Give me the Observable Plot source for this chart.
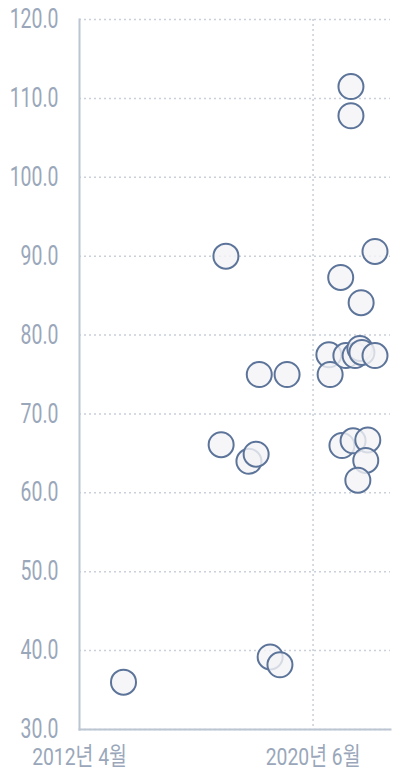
<!DOCTYPE html>
<html><head><meta charset="utf-8">
<script src="https://cdn.jsdelivr.net/npm/d3@7"></script>
<script src="https://cdn.jsdelivr.net/npm/@observablehq/plot@0.6"></script>
<style>body{margin:0;background:#fff}</style>
</head><body><div id="chart"></div>
<script>
const dates = ["2013-10-15","2017-05-15","2017-03-15","2018-03-05","2018-06-05","2018-07-15","2019-07-05","2018-12-01","2019-04-05","2021-09-28","2021-09-28","2022-08-01","2021-05-20","2022-02-05","2020-12-20","2021-01-05","2021-07-25","2021-11-20","2022-01-20","2022-02-15","2022-08-01","2021-06-05","2021-10-25","2022-05-01","2022-04-05","2021-12-25"];
const values = [36.0,90.0,66.1,64.0,64.9,75.0,75.0,39.2,38.2,111.5,107.8,90.6,87.3,84.1,77.5,75.0,77.4,77.4,78.3,77.8,77.4,66.0,66.6,66.7,64.1,61.6];
const yTicks = [30,40,50,60,70,80,90,100,110,120];
const xTickDates = ["2012-04-01","2020-06-01"];
const xTickLabels = ["2012년 4월","2020년 6월"];
const xDomain = ["2012-04-01","2023-02-15"];

const data = dates.map((d,i)=>({date:new Date(d), value:values[i]}));
const xt = xTickDates.map(d=>new Date(d));
const labelColor = "#9aa7ba";
const chart = Plot.plot({
  width:393, height:769,
  marginLeft:79, marginRight:3, marginTop:19, marginBottom:40,
  style:{fontFamily:"Roboto, 'Noto Sans CJK KR', sans-serif", background:"#fff", color:labelColor, overflow:"visible"},
  x:{type:"utc", domain:xDomain.map(d=>new Date(d))},
  y:{domain:[30,120]},
  marks:[
    Plot.gridY(yTicks,{stroke:"#c9d0da", strokeOpacity:1, strokeWidth:1.5, strokeDasharray:"2,3"}),
    Plot.gridX([xt[1]],{stroke:"#c9d0da", strokeOpacity:1, strokeWidth:1.5, strokeDasharray:"2,3"}),
    Plot.frame({anchor:"left", stroke:"#bcc6d3", strokeWidth:2}),
    Plot.frame({anchor:"bottom", stroke:"#bcc6d3", strokeWidth:2}),
    Plot.dot(data,{x:"date", y:"value", r:12.5, fill:"#f4f4f6", fillOpacity:0.8, stroke:"#5c7499", strokeWidth:2}),
    Plot.axisY(yTicks,{tickSize:0, tickPadding:21, tickFormat:d=>d.toFixed(1), fontSize:27, fill:labelColor, label:null}),
    Plot.axisX(xt,{tickSize:0, tickPadding:18, tickFormat:(d)=>xTickLabels[xt.findIndex(t=>+t===+d)], fontSize:24.5, fill:labelColor, label:null})
  ]
});
document.getElementById("chart").appendChild(chart);
const svg = d3.select(chart);
svg.selectAll("g[aria-label='y-axis tick label'] text").each(function(){
  const t=this.getAttribute("transform")||""; this.setAttribute("transform", t+" scale(0.72,1)");
});
svg.selectAll("g[aria-label='x-axis tick label'] text").each(function(){
  const t=this.getAttribute("transform")||""; this.setAttribute("transform", t+" scale(0.79,1)");
});
</script>
</body></html>
